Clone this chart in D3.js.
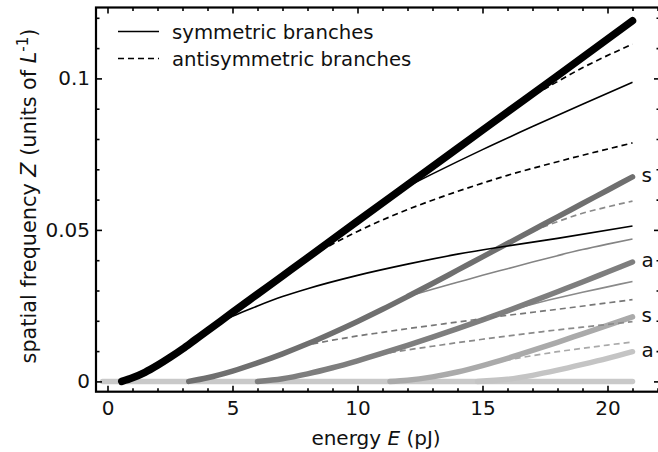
<!DOCTYPE html>
<html><head><meta charset="utf-8">
<script src="https://cdn.jsdelivr.net/npm/d3@7"></script>
<style>
html,body{margin:0;padding:0;background:#fff;}
svg{display:block;font-family:"DejaVu Sans",sans-serif;}
</style></head><body>
<svg id="chart" width="658" height="452"></svg>
<script>
// Axis ticks
const energyMajor = [0, 5, 10, 15, 20];
const energyMinor = d3.range(0, 23, 1).filter(v => v % 5 !== 0);
const freqMajor = [0, 0.05, 0.1];
const freqLabels = ["0", "0.05", "0.1"];
const freqMinor = [0.01, 0.02, 0.03, 0.04, 0.06, 0.07, 0.08, 0.09, 0.11, 0.12];

// Branches: [energy E (pJ), spatial frequency Z (1/L)]
const zeroBranch = [[-0.2, 0], [21, 0]];

const blackMain = [[0.57, 0], [1, 0.0012], [1.5, 0.0030], [2, 0.0053], [2.5, 0.0079], [3, 0.0107],
  [3.5, 0.0137], [4, 0.0167], [5, 0.0228], [6, 0.0288], [7, 0.0348], [8, 0.0408],
  [10, 0.0529], [12, 0.0649], [14, 0.0769], [16, 0.0889], [18, 0.1009], [21, 0.119]];
const blackSym1 = [[4.3, 0.0185], [5, 0.0215], [6, 0.0249], [7, 0.0280], [8, 0.0306], [10, 0.0350],
  [12, 0.0387], [14, 0.0420], [16, 0.0447], [18, 0.0472], [21, 0.0513]];
const blackAnti1 = [[7.5, 0.0378], [8.5, 0.0430], [10, 0.0495], [12, 0.0567], [14, 0.0627],
  [16, 0.0680], [18, 0.0725], [21, 0.0787]];
const blackSym2 = [[11.7, 0.0631], [13, 0.0685], [15, 0.0765], [17, 0.0841], [19, 0.0915], [21, 0.0987]];
const blackAnti2 = [[16.4, 0.0913], [17.5, 0.0966], [19, 0.1035], [21, 0.1113]];

const grayMain = [[3.25, 0], [4, 0.0012], [5, 0.0034], [6, 0.0061], [7, 0.0091], [8, 0.0124],
  [9, 0.0160], [10, 0.0198], [11, 0.0238], [12, 0.0280], [13, 0.0323], [14, 0.0367], [15, 0.0411],
  [16, 0.0455], [17, 0.0499], [18, 0.0543], [19, 0.0587], [20, 0.0631], [21, 0.0675]];
const grayAnti1 = [[7.8, 0.0117], [9, 0.0136], [10, 0.0150], [11, 0.0162], [12, 0.0174], [13, 0.0185],
  [14, 0.0196], [16, 0.0218], [18, 0.0238], [21, 0.0270]];
const graySym1 = [[12, 0.0280], [13, 0.0304], [14, 0.0327], [15, 0.0350], [16, 0.0372], [17, 0.0394],
  [18, 0.0415], [19, 0.0435], [20, 0.0453], [21, 0.0470]];
const grayAnti2 = [[16.3, 0.0468], [17, 0.0495], [18, 0.0527], [19, 0.0555], [20, 0.0576], [21, 0.0595]];

const midMain = [[6.0, 0], [7, 0.0009], [8, 0.0025], [9, 0.0045], [10, 0.0068], [11, 0.0093],
  [12, 0.0119], [13, 0.0146], [14, 0.0174], [15, 0.0203], [16, 0.0233], [17, 0.0264], [18, 0.0296],
  [19, 0.0328], [20, 0.0361], [21, 0.0394]];
const midAnti1 = [[10.9, 0.0090], [12, 0.0104], [13, 0.0116], [14, 0.0128], [15, 0.0139], [16, 0.0150],
  [17, 0.0160], [18, 0.0170], [19, 0.0179], [20, 0.0188], [21, 0.0197]];
const midSym1 = [[16, 0.0233], [17, 0.0255], [18, 0.0275], [19, 0.0294], [20, 0.0312], [21, 0.0330]];

const lightMain = [[11.3, 0], [12, 0.0004], [13, 0.0015], [14, 0.0031], [15, 0.0052], [16, 0.0076],
  [17, 0.0102], [18, 0.0129], [19, 0.0157], [20, 0.0185], [21, 0.0213]];
const lightAnti1 = [[15.5, 0.0064], [16, 0.0071], [17, 0.0085], [18, 0.0098], [19, 0.0109],
  [20, 0.0120], [21, 0.0130]];

const palestMain = [[14.8, 0], [16, 0.0007], [17, 0.0020], [18, 0.0037], [19, 0.0056], [20, 0.0076], [21, 0.0098]];

const endLabels = ["s", "a", "s", "a"];
const legendLabels = ["symmetric branches", "antisymmetric branches"];

// Drawing styles per branch kind
const styles = {
  thin: { width: 1.6, dash: null },
  dashed: { width: 1.7, dash: "6,4" }
};

const svg = d3.select("#chart");
const x = d3.scaleLinear().domain([-0.46, 22.1]).range([96, 660]);
const y = d3.scaleLinear().domain([-0.0034, 0.1234]).range([391.7, 7.5]);

const line = d3.line().x(d => x(d[0])).y(d => y(d[1])).curve(d3.curveMonotoneX);

const layers = [
  { data: zeroBranch, color: "#c9c9c9", width: 5.5, cap: "round" },
  { data: palestMain, color: "#c4c4c4", width: 5.5, cap: "round" },
  { data: lightAnti1, color: "#a9a9a9", kind: "dashed" },
  { data: lightMain, color: "#aaaaaa", width: 5.5, cap: "round" },
  { data: midAnti1, color: "#8a8a8a", kind: "dashed" },
  { data: midSym1, color: "#8a8a8a", kind: "thin" },
  { data: midMain, color: "#7e7e7e", width: 5.5, cap: "round" },
  { data: grayAnti1, color: "#777777", kind: "dashed" },
  { data: graySym1, color: "#848484", kind: "thin" },
  { data: grayAnti2, color: "#8a8a8a", kind: "dashed" },
  { data: grayMain, color: "#6f6f6f", width: 5.5, cap: "round" },
  { data: blackSym1, color: "#000", kind: "thin" },
  { data: blackAnti1, color: "#000", kind: "dashed" },
  { data: blackSym2, color: "#000", kind: "thin" },
  { data: blackAnti2, color: "#000", kind: "dashed" },
  { data: blackMain, color: "#000", width: 7.5, cap: "round" }
];

svg.append("g").selectAll("path").data(layers).join("path")
  .attr("d", d => line(d.data))
  .attr("fill", "none")
  .attr("stroke", d => d.color)
  .attr("stroke-width", d => d.kind ? styles[d.kind].width : d.width)
  .attr("stroke-dasharray", d => d.kind ? styles[d.kind].dash : null)
  .attr("stroke-linecap", d => d.cap || "butt")
  .attr("stroke-linejoin", "round");

// Family labels at the right-hand ends of the higher-order main branches
const labelled = [grayMain, midMain, lightMain, palestMain];
svg.append("g").selectAll("text").data(labelled).join("text")
  .attr("x", d => x(d[d.length - 1][0]) + 9)
  .attr("y", d => y(d[d.length - 1][1]) + 5)
  .attr("font-size", 20)
  .attr("fill", "#111")
  .text((d, i) => endLabels[i]);

// Axes with inward ticks on all four sides
const yTop = 7.5, yBot = 391.7, xLeft = 96, xRight = 660;
function styleAxis(g) {
  g.select(".domain").remove();
  g.selectAll(".tick line").attr("stroke", "#000").attr("stroke-width", 1.6);
  g.selectAll("text").attr("font-size", 20).attr("fill", "#111").attr("font-family", "DejaVu Sans, sans-serif");
}
svg.append("g").attr("transform", `translate(0,${yBot})`)
  .call(d3.axisBottom(x).tickValues(energyMajor).tickSize(-6).tickPadding(9).tickFormat(d3.format("d")))
  .call(styleAxis);
svg.append("g").attr("transform", `translate(0,${yBot})`)
  .call(d3.axisBottom(x).tickValues(energyMinor).tickSize(-3.5).tickFormat(""))
  .call(styleAxis);
svg.append("g").attr("transform", `translate(0,${yTop})`)
  .call(d3.axisTop(x).tickValues(energyMajor).tickSize(-6).tickFormat(""))
  .call(styleAxis);
svg.append("g").attr("transform", `translate(0,${yTop})`)
  .call(d3.axisTop(x).tickValues(energyMinor).tickSize(-3.5).tickFormat(""))
  .call(styleAxis);
svg.append("g").attr("transform", `translate(${xLeft},0)`)
  .call(d3.axisLeft(y).tickValues(freqMajor).tickSize(-6).tickPadding(6).tickFormat((d, i) => freqLabels[i]))
  .call(styleAxis);
svg.append("g").attr("transform", `translate(${xLeft},0)`)
  .call(d3.axisLeft(y).tickValues(freqMinor).tickSize(-3.5).tickFormat(""))
  .call(styleAxis);
svg.append("g").attr("transform", `translate(${xRight},0)`)
  .call(d3.axisRight(y).tickValues(freqMajor).tickSize(-6).tickFormat(""))
  .call(styleAxis);
svg.append("g").attr("transform", `translate(${xRight},0)`)
  .call(d3.axisRight(y).tickValues(freqMinor).tickSize(-3.5).tickFormat(""))
  .call(styleAxis);

// Frame
svg.append("rect").attr("x", xLeft).attr("y", yTop)
  .attr("width", xRight - xLeft).attr("height", yBot - yTop)
  .attr("fill", "none").attr("stroke", "#000").attr("stroke-width", 2.2);

// Legend
const legend = svg.append("g");
legendLabels.forEach((t, i) => {
  const ly = 31.5 + i * 27;
  legend.append("line").attr("x1", 118).attr("x2", 159).attr("y1", ly).attr("y2", ly)
    .attr("stroke", "#000").attr("stroke-width", 1.6)
    .attr("stroke-dasharray", i === 1 ? styles.dashed.dash : null);
  legend.append("text").attr("x", 172).attr("y", ly + 7).attr("font-size", 19.7)
    .attr("fill", "#111").text(t);
});

// Axis titles
const xt = svg.append("text").attr("x", (xLeft + 656) / 2).attr("y", 445)
  .attr("text-anchor", "middle").attr("font-size", 20).attr("fill", "#111");
xt.append("tspan").text("energy ");
xt.append("tspan").attr("font-style", "italic").text("E");
xt.append("tspan").text(" (pJ)");

const yt = svg.append("text")
  .attr("transform", `translate(36,196) rotate(-90)`)
  .attr("text-anchor", "middle").attr("font-size", 20.8).attr("fill", "#111");
yt.append("tspan").text("spatial frequency ");
yt.append("tspan").attr("font-style", "italic").text("Z");
yt.append("tspan").text(" (units of ");
yt.append("tspan").attr("font-style", "italic").text("L");
yt.append("tspan").attr("font-size", 15).attr("dy", -8).text("-1");
yt.append("tspan").attr("dy", 8).text(")");
</script></body></html>
